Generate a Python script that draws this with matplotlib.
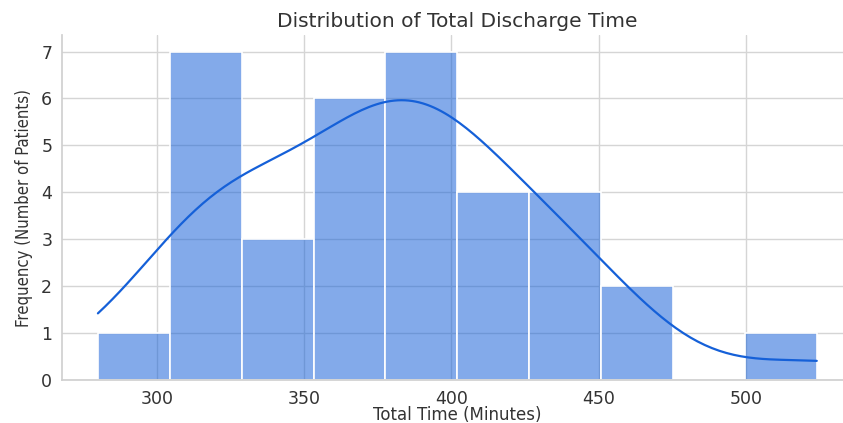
import matplotlib

matplotlib.use("Agg")
import matplotlib.pyplot as plt
import numpy as np
import seaborn as sns

# estimated per-patient total discharge times (minutes), read from the histogram bins
total_minutes = [
    280,
    306, 310, 315, 318, 320, 324, 327,
    335, 342, 350,
    357, 362, 366, 369, 372, 376,
    379, 382, 386, 389, 392, 395, 399,
    403, 406, 410, 415,
    428, 432, 437, 443,
    452, 459,
    524,
]
N_BINS = 10
COLOR = "#1560d8"

sns.set_theme(style="whitegrid")
plt.rcParams["font.family"] = ["DejaVu Sans"]

fig = plt.figure(figsize=(8.43, 4.23), dpi=100)
ax = fig.add_axes([0.0735, 0.1017, 0.938, 0.8153])
sns.histplot(np.array(total_minutes), bins=N_BINS, kde=True, color=COLOR,
             alpha=0.53, edgecolor="white", linewidth=1.2, ax=ax,
             line_kws=dict(linewidth=1.6))
sns.despine(ax=ax)
for s in ("left", "bottom"):
    ax.spines[s].set_color("#d0d0d0")
ax.grid(True, color="#d5d5d5", linewidth=1.0)
ax.set_axisbelow(True)

ax.set_xticks([300, 350, 400, 450, 500])
ax.set_yticks(range(0, 8))
ax.tick_params(axis="both", labelsize=12.5, colors="#333333", pad=1)
ax.set_title("Distribution of Total Discharge Time", fontsize=14.5,
             color="#333333", pad=6)
ax.set_xlabel("Total Time (Minutes)", fontsize=12, color="#333333", labelpad=-1)
ax.set_ylabel("Frequency (Number of Patients)", fontsize=12, color="#333333",
              fontstretch="condensed", labelpad=6)

fig.savefig("out.png", dpi=100)
